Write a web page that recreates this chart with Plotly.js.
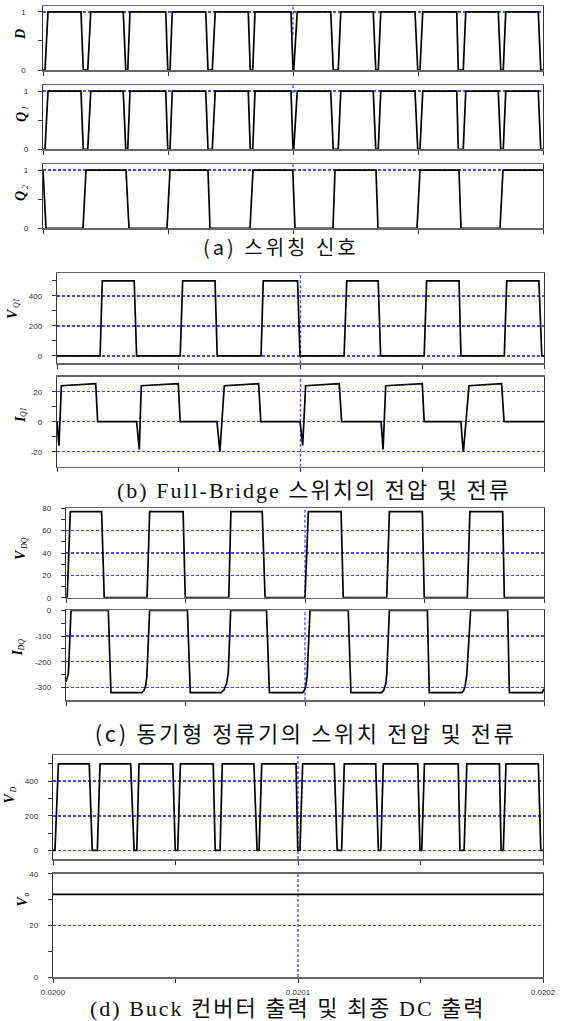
<!DOCTYPE html>
<html><head><meta charset="utf-8">
<script src="https://cdn.plot.ly/plotly-3.0.1.min.js"></script>
<style>
html,body{margin:0;padding:0;background:#fff}
#chart{width:571px;height:1021px}
.ytick text, .xtick text{letter-spacing:2.5px}
.annotation[data-index="0"] text{letter-spacing:3px}
.annotation[data-index="1"] text{letter-spacing:2px}
.annotation[data-index="2"] text{letter-spacing:2.6px}
.annotation[data-index="3"] text{letter-spacing:2px}
</style>
</head><body><div id="chart"></div>
<script>
// ---------- data (time in microseconds after T0 seconds) ----------
const T0 = 0.0200;
const xTickUs = [0, 100, 200];
const xTickLabels = ["0.0200", "0.0201", "0.0202"];
const xMinorUs = [50, 150];
const cursorUs = 100;

// (a) switching signals
const dUs  = [0, 0.8, 2.0, 15.2, 16.1, 17.9, 19.1, 32.1, 33.1, 33.9, 34.8, 49.1, 49.9, 50.8, 51.7, 65.1, 66.0, 67.7, 68.9, 82.1, 82.9, 83.9, 84.8, 99.2, 100.0, 100.3, 101.7, 115.1, 116.1, 118.1, 119.1, 132.1, 133.1, 134.1, 135.1, 148.8, 149.9, 150.8, 151.9, 165.5, 166.1, 168.1, 169.1, 182.1, 183.1, 184.1, 185.1, 198.1, 199.1, 200];
const dVal = [0, 0, 1, 1, 0, 0, 1, 1, 0, 0, 1, 1, 0, 0, 1, 1, 0, 0, 1, 1, 0, 0, 1, 1, 0, 0, 1, 1, 0, 0, 1, 1, 0, 0, 1, 1, 0, 0, 1, 1, 0, 0, 1, 1, 0, 0, 1, 1, 0, 0];
const q1Us  = [0, 0.8, 2.0, 15.2, 16.1, 17.9, 19.1, 32.1, 33.1, 33.9, 34.8, 49.1, 49.9, 50.8, 51.7, 65.1, 66.0, 67.7, 68.9, 82.1, 82.9, 83.9, 84.8, 99.2, 100.0, 100.3, 101.7, 115.1, 116.1, 118.1, 119.1, 132.1, 133.1, 134.1, 135.1, 148.8, 149.9, 150.8, 151.9, 165.5, 166.1, 168.1, 169.1, 182.1, 183.1, 184.1, 185.1, 198.1, 199.1, 200];
const q1Val = [0, 0, 1, 1, 0, 0, 1, 1, 0, 0, 1, 1, 0, 0, 1, 1, 0, 0, 1, 1, 0, 0, 1, 1, 0, 0, 1, 1, 0, 0, 1, 1, 0, 0, 1, 1, 0, 0, 1, 1, 0, 0, 1, 1, 0, 0, 1, 1, 0, 0];
const q2Us  = [0, 1.2, 16.0, 17.2, 33.2, 34.4, 49.6, 50.8, 66.0, 66.8, 82.8, 84.0, 99.9, 100.8, 116.0, 116.8, 133.2, 134.0, 149.6, 150.8, 166.4, 167.2, 182.8, 184.0, 200];
const q2Val = [1, 0, 0, 1, 1, 0, 0, 1, 1, 0, 0, 1, 1, 0, 0, 1, 1, 0, 0, 1, 1, 0, 0, 1, 1];

// (b) full-bridge switch voltage and current
const vq1Us  = [0, 17.7, 18.6, 31.7, 32.7, 50.6, 51.6, 64.9, 65.8, 83.8, 84.7, 98.8, 99.8, 117.9, 119.0, 131.9, 132.9, 150.8, 151.8, 165.1, 165.9, 183.7, 184.7, 197.9, 199.1, 200];
const vq1Val = [0, 0, 500, 500, 0, 0, 500, 500, 0, 0, 500, 500, 0, 0, 500, 500, 0, 0, 500, 500, 0, 0, 500, 500, 0, 0];
const iq1Us  = [0, 0.8, 1.8, 15.9, 16.7, 32.7, 33.8, 34.6, 49.8, 50.6, 65.7, 66.3, 66.9, 68.7, 82.8, 83.7, 99.8, 100.9, 102.1, 115.9, 116.9, 133.1, 133.9, 135.0, 150.0, 150.8, 165.9, 166.4, 166.9, 169.2, 182.6, 183.6, 200];
const iq1Val = [0, -16, 24, 25.3, 0, 0, -18.5, 24, 25.3, 0, 0, -12, -20, 24, 25.3, 0, 0, -15.8, 24, 25.4, 0, 0, -18.5, 24, 25.4, 0, 0, -12, -20, 24, 25.4, 0, 0];

// (c) synchronous rectifier switch voltage and current
const vdqUs  = [0, 0.5, 1.8, 14.9, 16.0, 33.9, 35.0, 49.0, 49.9, 68.1, 69.0, 82.1, 83.3, 100.0, 101.4, 115.1, 116.0, 134.2, 135.3, 149.1, 149.9, 167.9, 169.0, 182.7, 183.4, 200];
const vdqVal = [0, 0, 77, 77, 0, 0, 77, 77, 0, 0, 77, 77, 0, 0, 77, 77, 0, 0, 77, 77, 0, 0, 77, 77, 0, 0];
const idqUs  = [0, 0.5, 1.0, 2.1, 17.7, 18.8, 31.7, 32.6, 33.3, 33.8, 35.0, 50.8, 52.0, 64.9, 66.1, 67.2, 67.9, 68.9, 83.9, 85.1, 99.0, 99.7, 100.4, 100.9, 102.1, 118.1, 119.2, 132.1, 133.0, 133.8, 134.2, 135.3, 151.2, 152.0, 165.6, 166.4, 167.0, 167.7, 169.3, 184.8, 185.5, 199.3, 200];
const idqVal = [-278, -265, -246, 0, 0, -320, -320, -313, -295, -260, 0, 0, -320, -320, -310, -284, -245, 0, 0, -320, -320, -312, -290, -255, 0, 0, -320, -320, -310, -285, -250, 0, 0, -320, -320, -312, -295, -250, 0, 0, -320, -320, -305];

// (d) buck converter output and final DC output
const vdUs  = [0, 0.8, 2.2, 14.8, 16.0, 18.1, 19.2, 31.7, 33.1, 34.2, 35.1, 48.9, 49.9, 50.9, 52.0, 65.4, 66.2, 68.2, 69.1, 82.0, 83.3, 84.1, 85.2, 99.2, 99.9, 100.8, 101.9, 114.8, 116.0, 117.8, 118.9, 131.7, 132.8, 133.8, 134.8, 148.9, 149.8, 150.5, 151.6, 165.4, 166.1, 167.8, 168.9, 182.2, 182.9, 183.8, 184.9, 198.1, 199.1, 200];
const vdVal = [0, 0, 500, 500, 0, 0, 500, 500, 0, 0, 500, 500, 0, 0, 500, 500, 0, 0, 500, 500, 0, 0, 500, 500, 0, 0, 500, 500, 0, 0, 500, 500, 0, 0, 500, 500, 0, 0, 500, 500, 0, 0, 500, 500, 0, 0, 500, 500, 0, 0];
const voUs  = [0, 200];
const voVal = [32, 32];

// y-axis ticks (labelled / unlabelled)
const dTicks = [0, 1],          dMinor = [0.5];
const vq1Ticks = [0, 200, 400], vq1Minor = [100, 300, 500];
const iq1Ticks = [-20, 0, 20],  iq1Minor = [-10, 10];
const vdqTicks = [0, 20, 40, 60, 80], vdqMinor = [10, 30, 50, 70];
const idqTicks = [-300, -200, -100, 0], idqMinor = [-250, -150, -50];
const vdTicks = [0, 200, 400],  vdMinor = [100, 300, 500];
const voTicks = [0, 20, 40],    voMinor = [10, 30];

// y-axis names: main symbol and subscript
const yMain = ["D", "Q", "Q", "V", "I", "V", "I", "V", "V"];
const ySub  = ["", "1", "2", "Q1", "Q1", "DQ", "DQ", "D", "o"];
const captions = [
  "(a) 스위칭 신호",
  "(b) Full-Bridge 스위치의 전압 및 전류",
  "(c) 동기형 정류기의 스위치 전압 및 전류",
  "(d) Buck 컨버터 출력 및 최종 DC 출력"
];

// ---------- layout geometry ----------
const W = 571, H = 1021;
const toX = us => T0 + us * 1e-6;
const xd = a => [a[0] / W, a[1] / W];
const yd = a => [1 - a[1] / H, 1 - a[0] / H];

const panels = [
  {us: dUs,   v: dVal,   xr: [43, 543], yr: [6, 70],        range: [0, 1.1],    t: dTicks,   m: dMinor,   name: [20, 35],  sub: [0, 0],    cur: [0.55, 1]},
  {us: q1Us,  v: q1Val,  xr: [43, 543], yr: [85.3, 149.3],  range: [0, 1.1],    t: dTicks,   m: dMinor,   name: [21, 117], sub: [25, 108], cur: [0.88, 1]},
  {us: q2Us,  v: q2Val,  xr: [43, 543], yr: [164.3, 228.3], range: [0, 1.1],    t: dTicks,   m: dMinor,   name: [21, 196], sub: [25, 187], cur: [0.88, 1]},
  {us: vq1Us, v: vq1Val, xr: [57, 544], yr: [273.3, 363.3], range: [-50, 550],  t: vq1Ticks, m: vq1Minor, name: [12, 314], sub: [16, 303], cur: [0, 1]},
  {us: iq1Us, v: iq1Val, xr: [57, 544], yr: [376.7, 466.7], range: [-30, 30],   t: iq1Ticks, m: iq1Minor, name: [20, 420], sub: [24, 412], cur: [0, 1]},
  {us: vdqUs, v: vdqVal, xr: [66, 544], yr: [508.3, 597.7], range: [0, 80],     t: vdqTicks, m: vdqMinor, name: [20, 555], sub: [24, 544], cur: [0, 1]},
  {us: idqUs, v: idqVal, xr: [66, 544], yr: [610.3, 700.3], range: [-350, 0],   t: idqTicks, m: idqMinor, name: [16.5, 653], sub: [20.5, 645], cur: [0, 1]},
  {us: vdUs,  v: vdVal,  xr: [53, 543], yr: [755.3, 859],   range: [-50, 550],  t: vdTicks,  m: vdMinor,  name: [8.5, 798], sub: [12.5, 790], cur: [0, 1]},
  {us: voUs,  v: voVal,  xr: [53, 543], yr: [873.7, 977],   range: [0, 40],     t: voTicks,  m: voMinor,  name: [21.5, 901], sub: [25.5, 894], cur: [0, 1]}
];
const capPos = [[281, 247], [314, 490], [305, 732], [288, 1008]];
const capFont = ["Noto Sans CJK KR", "Liberation Serif, Noto Sans CJK KR", "Noto Sans CJK KR", "Liberation Serif, Noto Sans CJK KR"];
const capSize = [20, 22, 22, 22];

const tickFont = {family: "Liberation Sans, Arial, sans-serif", size: 8, color: "#333"};
const nameFont = {family: "Liberation Serif, Times New Roman, serif", size: 14, color: "#000", weight: "bold", style: "italic"};
const subFont  = {family: "Liberation Serif, Times New Roman, serif", size: 8, color: "#000", style: "italic"};
const traces = [];
const layout = {
  width: W, height: H, margin: {l: 0, r: 0, t: 0, b: 0},
  paper_bgcolor: "#fff", plot_bgcolor: "#fff", showlegend: false,
  annotations: [], shapes: []
};

captions.forEach((c, i) => {
  layout.annotations.push({
    xref: "paper", yref: "paper", x: capPos[i][0] / W, y: 1 - capPos[i][1] / H,
    xanchor: "center", yanchor: "middle", showarrow: false, text: c,
    font: {family: capFont[i], size: capSize[i], color: "#111"}
  });
});

panels.forEach((p, i) => {
  const n = i + 1, s = n === 1 ? "" : String(n);
  traces.push({
    type: "scatter", mode: "lines", x: p.us.map(toX), y: p.v,
    xaxis: "x" + s, yaxis: "y" + s,
    line: {color: "#000", width: 1.7}, hoverinfo: "skip"
  });
  const xa = {
    domain: xd(p.xr), anchor: "y" + s, range: [toX(0), toX(200)],
    tickmode: "array", tickvals: xTickUs.map(toX),
    ticks: "outside", ticklen: 4, tickcolor: "#333", tickwidth: 1,
    minor: {tickmode: "array", tickvals: xMinorUs.map(toX), ticks: "outside", ticklen: 4, tickcolor: "#333", showgrid: false},
    showticklabels: n === 9, tickfont: tickFont,
    showgrid: false, zeroline: false,
    showline: true, mirror: true, linecolor: "#666", linewidth: 1.5, fixedrange: true
  };
  if (n === 9) { xa.ticktext = xTickLabels; xa.ticklabelstandoff = 3; }
  layout["xaxis" + s] = xa;
  layout["yaxis" + s] = {
    domain: yd(p.yr), anchor: "x" + s, range: p.range,
    tickmode: "array", tickvals: p.t, ticktext: p.t.map(String),
    ticks: "outside", ticklen: 4, tickcolor: "#333", tickwidth: 1,
    minor: {tickmode: "array", tickvals: p.m, ticks: "outside", ticklen: 4, tickcolor: "#333", showgrid: false},
    tickfont: tickFont, ticklabelstandoff: 8,
    showgrid: true, gridcolor: "rgb(70,70,255)", griddash: "3px,2px", gridwidth: 1.5,
    zeroline: false, showline: true, mirror: true, linecolor: "#333", linewidth: 1.2, fixedrange: true
  };
  layout.shapes.push({
    type: "line", xref: "x" + s, yref: "y" + s + " domain",
    x0: toX(cursorUs), x1: toX(cursorUs), y0: p.cur[0], y1: p.cur[1],
    line: {color: "rgb(70,70,255)", width: 1.3, dash: "3px,2px"}, layer: "below"
  });
  layout.annotations.push({
    xref: "paper", yref: "paper", x: p.name[0] / W, y: 1 - p.name[1] / H,
    xanchor: "center", yanchor: "middle", textangle: -90, showarrow: false,
    text: yMain[i], font: nameFont
  });
  if (ySub[i]) {
    layout.annotations.push({
      xref: "paper", yref: "paper", x: p.sub[0] / W, y: 1 - p.sub[1] / H,
      xanchor: "center", yanchor: "middle", textangle: -90, showarrow: false,
      text: ySub[i], font: subFont
    });
  }
});

Plotly.newPlot("chart", traces, layout, {displayModeBar: false, staticPlot: true});
</script>
</body></html>
